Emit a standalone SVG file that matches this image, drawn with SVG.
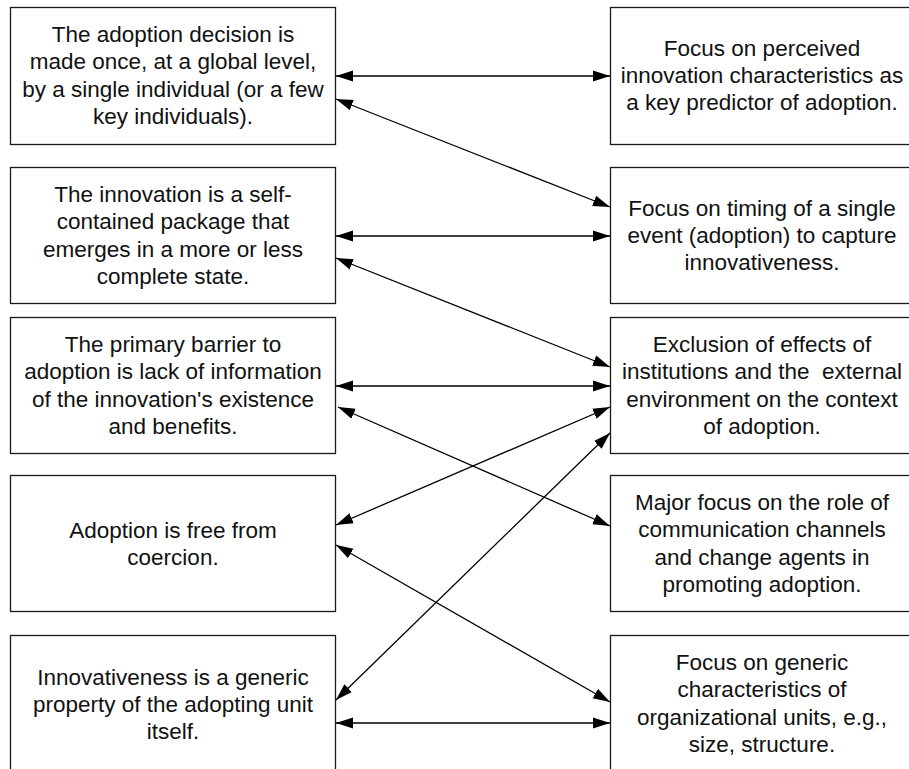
<svg xmlns="http://www.w3.org/2000/svg" width="909" height="769" viewBox="0 0 909 769">
<style>
.box{fill:#fff;stroke:#1a1a1a;stroke-width:1.3}
.t{font-family:"Liberation Sans",Arial,sans-serif;font-size:22.5px;fill:#111;text-anchor:middle;white-space:pre}
.c{stroke:#000;stroke-width:1.3;fill:none;marker-start:url(#ah);marker-end:url(#ah)}
</style>
<defs>
<marker id="ah" markerUnits="userSpaceOnUse" markerWidth="18" markerHeight="12" refX="17" refY="6" orient="auto-start-reverse" viewBox="0 0 18 12">
<path d="M0,0.5 L17,6 L0,11.5 z" fill="#000"/>
</marker>
</defs>
<rect width="909" height="769" fill="#fff"/>
<g id="L1"><rect class="box" x="10.5" y="7.5" width="325" height="137"/>
<text class="t" x="173" y="42">The adoption decision is</text>
<text class="t" x="173" y="69.3">made once, at a global level,</text>
<text class="t" x="173" y="96.6">by a single individual (or a few</text>
<text class="t" x="173" y="124">key individuals).</text></g>
<g id="L2"><rect class="box" x="10.5" y="167.5" width="325" height="136"/>
<text class="t" x="173" y="202">The innovation is a self-</text>
<text class="t" x="173" y="229.3">contained package that</text>
<text class="t" x="173" y="256.6">emerges in a more or less</text>
<text class="t" x="173" y="284">complete state.</text></g>
<g id="L3"><rect class="box" x="10.5" y="317.5" width="325" height="136"/>
<text class="t" x="173" y="352">The primary barrier to</text>
<text class="t" x="173" y="379.3">adoption is lack of information</text>
<text class="t" x="173" y="406.6">of the innovation's existence</text>
<text class="t" x="173" y="434">and benefits.</text></g>
<g id="L4"><rect class="box" x="10.5" y="475.5" width="325" height="136"/>
<text class="t" x="173" y="537.5">Adoption is free from</text>
<text class="t" x="173" y="564.8">coercion.</text></g>
<g id="L5"><rect class="box" x="10.5" y="635.5" width="325" height="140"/>
<text class="t" x="173" y="684.5">Innovativeness is a generic</text>
<text class="t" x="173" y="711.8">property of the adopting unit</text>
<text class="t" x="173" y="739">itself.</text></g>
<g id="R1"><rect class="box" x="610.5" y="7.5" width="304" height="137"/>
<text class="t" x="762" y="55.5">Focus on perceived</text>
<text class="t" x="762" y="82.8">innovation characteristics as</text>
<text class="t" x="762" y="110">a key predictor of adoption.</text></g>
<g id="R2"><rect class="box" x="610.5" y="167.5" width="304" height="136"/>
<text class="t" x="762" y="215.5">Focus on timing of a single</text>
<text class="t" x="762" y="242.8">event (adoption) to capture</text>
<text class="t" x="762" y="270">innovativeness.</text></g>
<g id="R3"><rect class="box" x="610.5" y="317.5" width="304" height="136"/>
<text class="t" x="762" y="352">Exclusion of effects of</text>
<text class="t" x="762" y="379.3">institutions and the  external</text>
<text class="t" x="762" y="406.6">environment on the context</text>
<text class="t" x="762" y="434">of adoption.</text></g>
<g id="R4"><rect class="box" x="610.5" y="475.5" width="304" height="136"/>
<text class="t" x="762" y="510">Major focus on the role of</text>
<text class="t" x="762" y="537.3">communication channels</text>
<text class="t" x="762" y="564.6">and change agents in</text>
<text class="t" x="762" y="592">promoting adoption.</text></g>
<g id="R5"><rect class="box" x="610.5" y="635.5" width="304" height="140"/>
<text class="t" x="762" y="670">Focus on generic</text>
<text class="t" x="762" y="697.3">characteristics of</text>
<text class="t" x="762" y="724.6">organizational units, e.g.,</text>
<text class="t" x="762" y="752">size, structure.</text></g>
<g id="connectors">
<line class="c" x1="336" y1="76" x2="610" y2="76"/>
<line class="c" x1="336" y1="99" x2="610" y2="207"/>
<line class="c" x1="336" y1="236" x2="610" y2="236"/>
<line class="c" x1="336" y1="258" x2="610" y2="367"/>
<line class="c" x1="336" y1="386" x2="610" y2="386"/>
<line class="c" x1="338" y1="407" x2="610" y2="526"/>
<line class="c" x1="610" y1="407" x2="336" y2="525"/>
<line class="c" x1="336" y1="545" x2="610" y2="702"/>
<line class="c" x1="610" y1="433" x2="336" y2="700"/>
<line class="c" x1="336" y1="723" x2="610" y2="723"/>
</g>
</svg>
